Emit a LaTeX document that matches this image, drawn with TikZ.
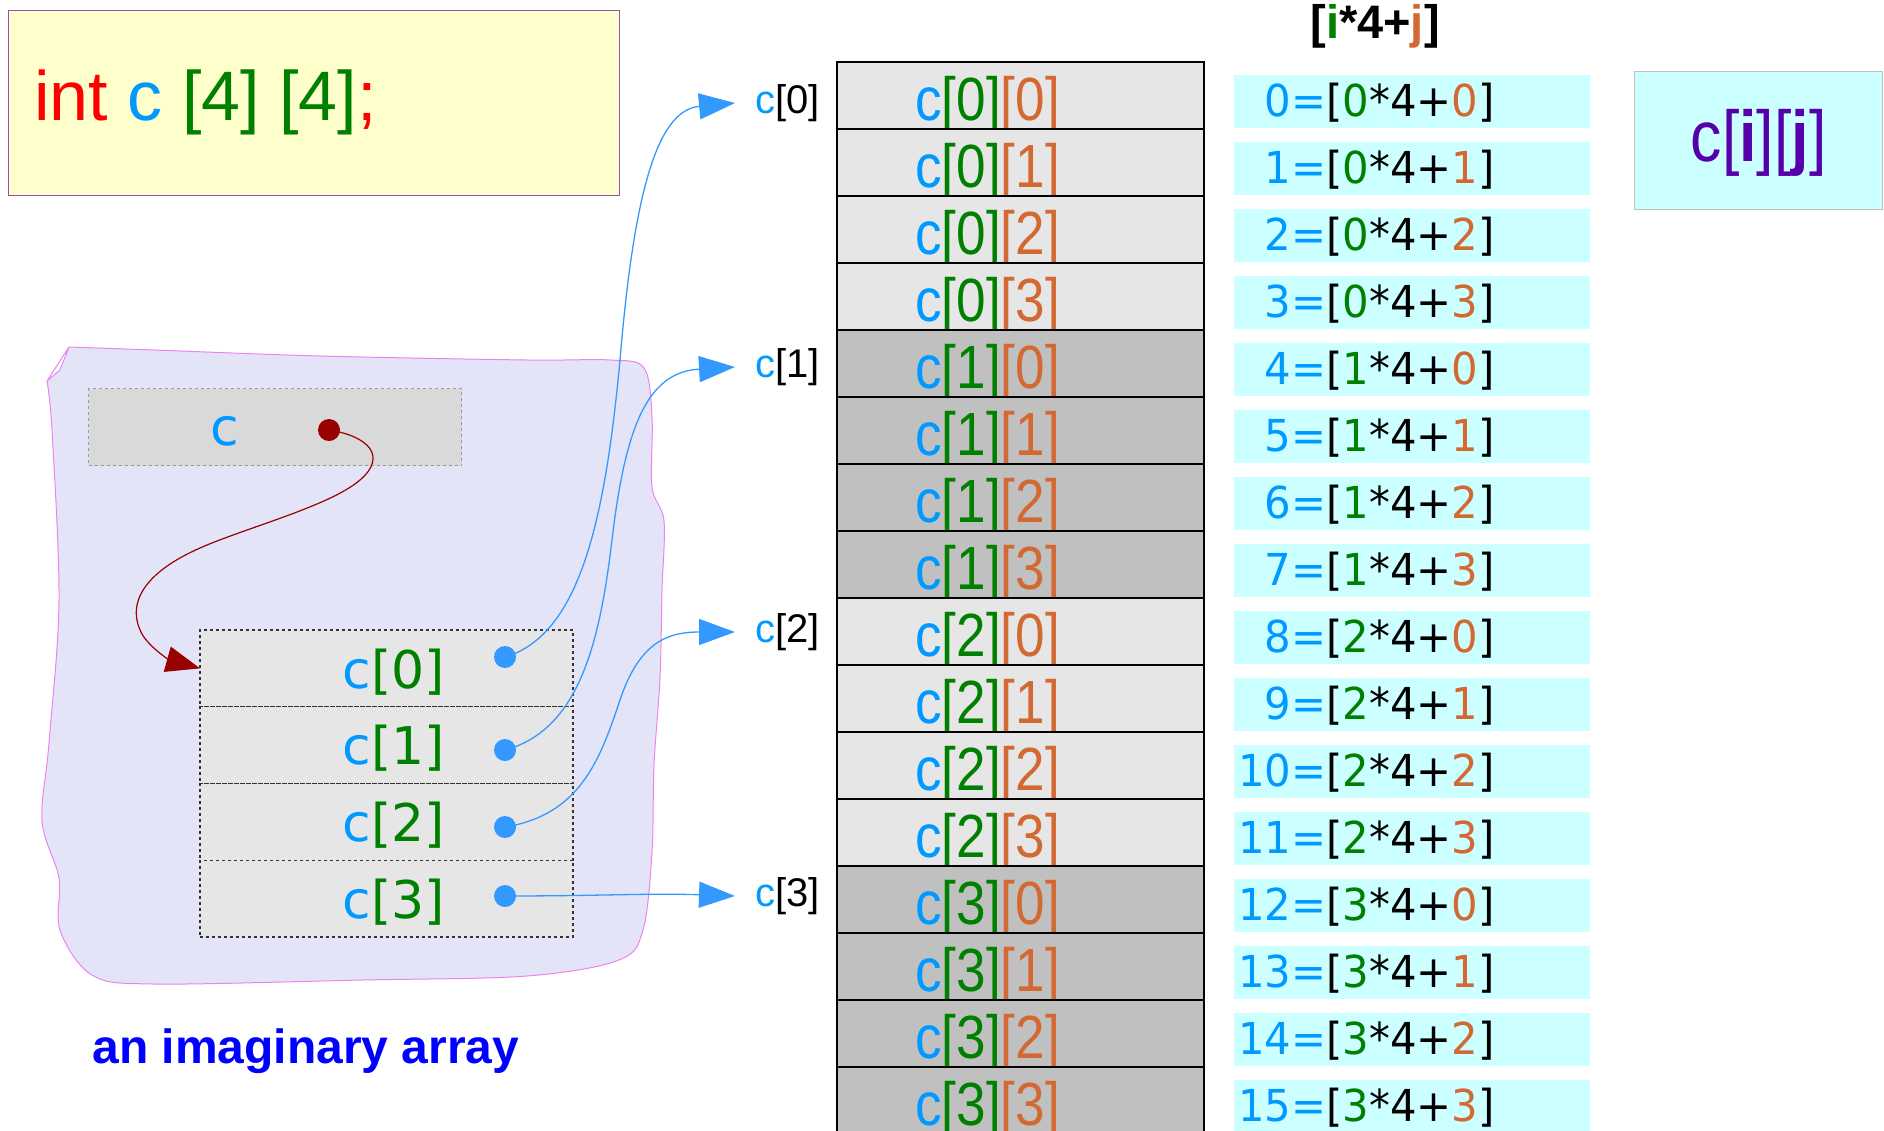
\documentclass[tikz,border=0pt]{standalone}
\usepackage{fontspec}
\setmainfont{Liberation Sans}
\newfontfamily\dvs{DejaVu Sans}
\newfontfamily\dvsn[FakeStretch=0.95]{DejaVu Sans}
\newfontfamily\cellf[FakeStretch=0.87]{Liberation Sans}
\usetikzlibrary{arrows.meta}
\definecolor{cblue}{RGB}{0,153,255}
\definecolor{cgreen}{RGB}{0,128,0}
\definecolor{corange}{RGB}{210,105,50}
\definecolor{cred}{RGB}{255,0,0}
\definecolor{dotblue}{RGB}{51,153,255}
\definecolor{dred}{RGB}{153,0,0}
\definecolor{lav}{RGB}{228,228,248}
\definecolor{violetline}{RGB}{238,130,238}
\definecolor{cyanbox}{RGB}{204,255,255}
\definecolor{purp}{RGB}{85,0,170}
\definecolor{yel}{RGB}{255,255,204}
\definecolor{yelborder}{RGB}{160,80,170}
\definecolor{lightcell}{RGB}{230,230,230}
\definecolor{darkcell}{RGB}{192,192,192}
\definecolor{capblue}{RGB}{0,0,255}
\begin{document}
\begin{tikzpicture}[x=1pt,y=-1pt,
  cellbox/.style={draw=black, line width=1.2pt, minimum width=367pt, minimum height=67pt, anchor=north west, inner sep=0pt, outer sep=0pt},
  fbox/.style={fill=cyanbox, minimum width=356pt, minimum height=53pt, anchor=north west, inner sep=0pt, outer sep=0pt},
  celltext/.style={anchor=base west, inner sep=0pt, font=\cellf\fontsize{61pt}{70pt}\selectfont},
  ftext/.style={anchor=base east, inner sep=0pt, font=\dvsn\fontsize{44pt}{50pt}\selectfont},
  stackrow/.style={draw=black!80, dashed, line width=1.2pt, fill=lightcell, minimum width=373pt, minimum height=76.75pt, anchor=north west, inner sep=0pt, outer sep=0pt},
  stacktext/.style={anchor=base east, inner sep=0pt, font=\dvs\fontsize{52pt}{60pt}\selectfont},
  bluedot/.style={circle, fill=dotblue, minimum size=22pt, inner sep=0pt},
  lbl/.style={anchor=west, inner sep=0pt, font=\fontsize{40pt}{46pt}\selectfont},
  bluearrow/.style={draw=dotblue, line width=1.3pt, -{Triangle[length=36pt,width=26pt]}},
]
\useasboundingbox (0,0) rectangle (1884,1130);
\clip (0,0) rectangle (1884,1130);

% declaration box
\node[draw=yelborder, line width=1.2pt, fill=yel, minimum width=611pt, minimum height=185pt, anchor=north west, inner sep=0pt] (decl) at (8,10) {};
\node[anchor=base west, inner sep=0pt, font=\fontsize{70pt}{80pt}\selectfont] (declt) at (34,120)
  {\textcolor{cred}{int} \textcolor{cblue}{c} \textcolor{cgreen}{[4] [4]}\textcolor{cred}{;}};

% imaginary blob
\draw[violetline, line width=1pt, fill=lav]
  (69,347) -- (60,370) -- (47,381)
  plot[smooth, tension=0.55] coordinates {(47,381) (52,430) (59,600) (49,743) (42,821) (59,878) (60,930) (92,975) (154,984)
  (362,980) (527,976) (619,960) (643,930) (652,852) (654,765) (660,678) (662,591) (664,521)
  (652,487) (652,417) (644,368) (610,360) (527,360) (320,356) (154,350) (69,347)} -- cycle;

% pointer c
\node[draw=black!40, dashed, line width=1.2pt, fill=black!15, minimum width=373pt, minimum height=77pt, anchor=north west, inner sep=0pt] (cbox) at (88,388) {};
\node[anchor=center, inner sep=0pt, font=\dvs\fontsize{52pt}{60pt}\selectfont, text=cblue] (ctext) at (225,431) {c};
\node[circle, fill=dred, minimum size=22pt, inner sep=0pt] (rdot) at (329,430) {};

% stack of row pointers
\foreach \r in {0,...,3}{
  \pgfmathsetmacro\ty{630+76.75*\r}
  \node[stackrow] (s\r) at (200,\ty) {};
  \node[stacktext] (st\r) at (445,\ty+58) {\textcolor{cblue}{c}\textcolor{cgreen}{[\r]}};
}
\node[bluedot] (bd0) at (505,657) {};
\node[bluedot] (bd1) at (505,750) {};
\node[bluedot] (bd2) at (505,827) {};
\node[bluedot] (bd3) at (505,896) {};

% red pointer arrow
\draw[dred, line width=1.2pt, -{Triangle[length=34pt,width=26pt]}]
  (rdot.center) .. controls (368,436) and (388,456) .. (360,480)
  .. controls (330,506) and (245,528) .. (200,548)
  .. controls (150,570) and (124,600) .. (142,634)
  .. controls (150,648) and (170,660) .. (s0.west);

% table of elements
\foreach \i in {0,...,3}{
  \foreach \j in {0,...,3}{
    \pgfmathtruncatemacro\k{4*\i+\j}
    \pgfmathsetmacro\ty{62+67*\k}
    \ifodd\i
      \node[cellbox, fill=darkcell] (cell\k) at (837,\ty) {};
    \else
      \node[cellbox, fill=lightcell] (cell\k) at (837,\ty) {};
    \fi
    \node[celltext] (ct\k) at (915,\ty+58) {\textcolor{cblue}{c}\textcolor{cgreen}{[\i]}\textcolor{corange}{[\j]}};
    \node[fbox] (fb\k) at (1234,\ty+13) {};
    \node[ftext] (ft\k) at (1495,\ty+54) {\textcolor{cblue}{\k=}[\textcolor{cgreen}{\i}*4+\textcolor{corange}{\j}]};
  }
}
\draw[line width=2.6pt] (cell4.north west) -- (cell4.north east);
\draw[line width=2.6pt] (cell8.north west) -- (cell8.north east);
\draw[line width=2.6pt] (cell12.north west) -- (cell12.north east);

% row labels
\node[lbl] (lab0) at (755,103) {\textcolor{cblue}{c}[0]};
\node[lbl] (lab1) at (755,367) {\textcolor{cblue}{c}[1]};
\node[lbl] (lab2) at (755,632) {\textcolor{cblue}{c}[2]};
\node[lbl] (lab3) at (755,896) {\textcolor{cblue}{c}[3]};
\coordinate (t0) at ([xshift=-20pt]lab0.west);
\coordinate (t1) at ([xshift=-20pt]lab1.west);
\coordinate (t2) at ([xshift=-20pt]lab2.west);
\coordinate (t3) at ([xshift=-20pt]lab3.west);

% blue pointer arrows
\draw[bluearrow] (bd0.center) .. controls (580,635) and (605,520) .. (620,360)
  .. controls (635,180) and (660,110) .. (t0);
\draw[bluearrow] (bd1.center) .. controls (580,730) and (600,640) .. (612,540)
  .. controls (626,420) and (650,372) .. (t1);
\draw[bluearrow] (bd2.center) .. controls (580,815) and (600,760) .. (620,700)
  .. controls (640,640) and (670,632) .. (t2);
\draw[bluearrow] (bd3.center) .. controls (600,896) and (650,893) .. (t3);

% header and index box
\node[anchor=base, inner sep=0pt, font=\bfseries\fontsize{47pt}{52pt}\selectfont] (hdr) at (1375,38)
  {[\textcolor{cgreen}{i}*4+\textcolor{corange}{j}]};
\node[draw=black!25, line width=1.2pt, fill=cyanbox, minimum width=248pt, minimum height=138pt, anchor=north west, inner sep=0pt] (cij) at (1634,71) {};
\node[anchor=center, inner sep=0pt, font=\cellf\fontsize{72pt}{80pt}\selectfont, text=purp] (cijt) at ([yshift=-2pt]cij.center)
  {c[\textbf{i}][\textbf{j}]};

% caption
\node[anchor=base, inner sep=0pt, font=\bfseries\fontsize{48pt}{56pt}\selectfont, text=capblue] (cap) at (306,1063) {an imaginary array};
\end{tikzpicture}
\end{document}
